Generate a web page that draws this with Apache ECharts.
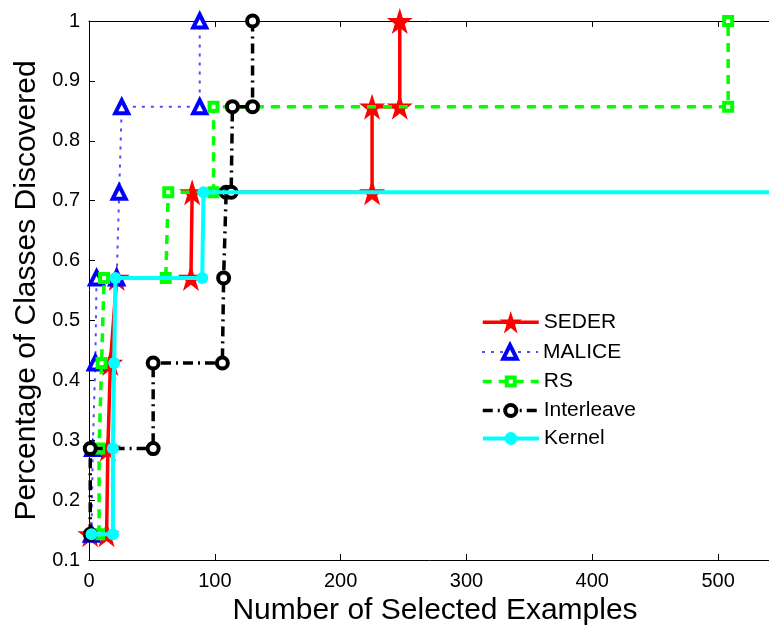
<!DOCTYPE html>
<html>
<head>
<meta charset="utf-8">
<script src="https://cdn.jsdelivr.net/npm/echarts@6/dist/echarts.min.js"></script>
<style>
  html, body { margin: 0; padding: 0; background: #fff; overflow: hidden; }
  #chart { width: 769px; height: 629px; }
</style>
</head>
<body>
<div id="chart"></div>
<script>
// Fraction of classes discovered vs. number of examples queried
const seriesNames = ['SEDER', 'MALICE', 'RS', 'Interleave', 'Kernel'];

const sederX = [1, 14, 15, 17, 22, 81, 82, 225, 225, 247, 247];
const sederY = [0.143, 0.143, 0.286, 0.429, 0.571, 0.571, 0.714, 0.714, 0.857, 0.857, 1.0];

const maliceX = [2, 3, 5, 6, 22, 24, 26, 88, 88];
const maliceY = [0.143, 0.286, 0.429, 0.571, 0.571, 0.714, 0.857, 0.857, 1.0];

const rsX = [8, 8, 10, 12, 61, 63, 99, 99, 508, 508];
const rsY = [0.143, 0.286, 0.429, 0.571, 0.571, 0.714, 0.714, 0.857, 0.857, 1.0];

const interleaveX = [1, 1, 51, 51, 106, 107, 109, 113, 114, 130, 130];
const interleaveY = [0.143, 0.286, 0.286, 0.429, 0.429, 0.571, 0.714, 0.714, 0.857, 0.857, 1.0];

const kernelX = [2, 19, 19, 20, 21, 90, 91, 700];
const kernelY = [0.143, 0.143, 0.286, 0.429, 0.571, 0.571, 0.714, 0.714];

const xTickMax = 550;
const yTickMin = 0.1;
const yTickMax = 1;

function zip(xs, ys) { return xs.map((x, i) => [x, ys[i]]); }

const FONT = "'Liberation Sans', Arial, Helvetica, sans-serif";
const STAR = 'path://M50,0 L61.8,36.2 L100,36.2 L69.1,58.6 L80.9,95.1 L50,72.7 L19.1,95.1 L30.9,58.6 L0,36.2 L38.2,36.2 Z';

// legend rows: one legend component per entry so each icon keeps its marker size
const legendRowCenters = [325, 350, 376, 407, 436];
const legendIconHeights = [28, 17, 10, 14, 16];

function legendRow(i) {
  return {
    left: 476,
    top: legendRowCenters[i] - legendIconHeights[i] / 2 - 5,
    padding: 5,
    itemWidth: 56,
    itemHeight: legendIconHeights[i],
    selectedMode: false,
    lineStyle: { width: 'inherit' },
    itemStyle: { borderWidth: 'inherit' },
    textStyle: { fontFamily: FONT, fontSize: 21, color: '#000' },
    data: [seriesNames[i]]
  };
}

const chart = echarts.init(document.getElementById('chart'), null, { renderer: 'canvas' });

const option = {
  backgroundColor: '#ffffff',
  animation: false,
  // plot box runs past the right edge of the canvas, so its right border is not seen
  grid: { left: 89, top: 21, width: 692, bottom: 69, containLabel: false, outerBoundsMode: 'none' },
  legend: seriesNames.map((_, i) => legendRow(i)),
  xAxis: [
    {
      type: 'value',
      position: 'bottom',
      min: 0,
      max: xTickMax,
      interval: 100,
      name: 'Number of Selected Examples',
      nameLocation: 'middle',
      nameGap: 34,
      nameTextStyle: { fontFamily: FONT, fontSize: 30, color: '#000' },
      axisLine: { show: true, onZero: false, lineStyle: { color: '#000', width: 1 } },
      axisTick: { show: true, inside: true, length: 6, lineStyle: { color: '#000' } },
      axisLabel: { fontFamily: FONT, fontSize: 20, color: '#000', margin: 11, showMaxLabel: false },
      splitLine: { show: false }
    },
    {
      type: 'value',
      position: 'top',
      min: 0,
      max: xTickMax,
      interval: 100,
      axisLine: { show: true, onZero: false, lineStyle: { color: '#000', width: 1 } },
      axisTick: { show: true, inside: true, length: 6, lineStyle: { color: '#000' } },
      axisLabel: { show: false },
      splitLine: { show: false }
    }
  ],
  yAxis: {
    type: 'value',
    min: yTickMin,
    max: yTickMax,
    interval: 0.1,
    name: 'Percentage of Classes Discovered',
    nameLocation: 'middle',
    nameGap: 38,
    nameTextStyle: { fontFamily: FONT, fontSize: 30, color: '#000' },
    axisLine: { show: true, onZero: false, lineStyle: { color: '#000', width: 1 } },
    axisTick: { show: true, inside: true, length: 6, lineStyle: { color: '#000' } },
    axisLabel: { fontFamily: FONT, fontSize: 20, color: '#000', margin: 9 },
    splitLine: { show: false }
  },
  series: [
    {
      name: 'SEDER',
      type: 'line',
      data: zip(sederX, sederY),
      symbol: STAR,
      symbolSize: 26,
      showAllSymbol: true,
      clip: true,
      lineStyle: { color: '#ff0000', width: 3.5, type: 'solid' },
      itemStyle: { color: '#ff0000', borderColor: '#ff0000', borderWidth: 0 },
      z: 2
    },
    {
      name: 'MALICE',
      type: 'line',
      data: zip(maliceX, maliceY),
      symbol: 'triangle',
      symbolSize: 13,
      showAllSymbol: true,
      clip: true,
      lineStyle: { color: '#4d4dff', width: 2, type: [3, 6] },
      itemStyle: { color: '#ffffff', borderColor: '#0000ff', borderWidth: 4 },
      z: 3
    },
    {
      name: 'RS',
      type: 'line',
      data: zip(rsX, rsY),
      symbol: 'rect',
      symbolSize: 8,
      showAllSymbol: true,
      clip: true,
      lineStyle: { color: '#00ff00', width: 3.5, type: [9, 7] },
      itemStyle: { color: '#ffffff', borderColor: '#00ff00', borderWidth: 4 },
      z: 4
    },
    {
      name: 'Interleave',
      type: 'line',
      data: zip(interleaveX, interleaveY),
      symbol: 'circle',
      symbolSize: 11,
      showAllSymbol: true,
      clip: true,
      lineStyle: { color: '#000000', width: 3.5, type: [10, 5, 2, 5] },
      itemStyle: { color: '#ffffff', borderColor: '#000000', borderWidth: 4 },
      z: 5
    },
    {
      name: 'Kernel',
      type: 'line',
      data: zip(kernelX, kernelY),
      symbol: 'circle',
      symbolSize: 12,
      showAllSymbol: true,
      clip: true,
      lineStyle: { color: '#00ffff', width: 4, type: 'solid' },
      itemStyle: { color: '#00ffff', borderColor: '#00ffff', borderWidth: 0 },
      z: 6
    }
  ]
};

chart.setOption(option);
</script>
</body>
</html>
